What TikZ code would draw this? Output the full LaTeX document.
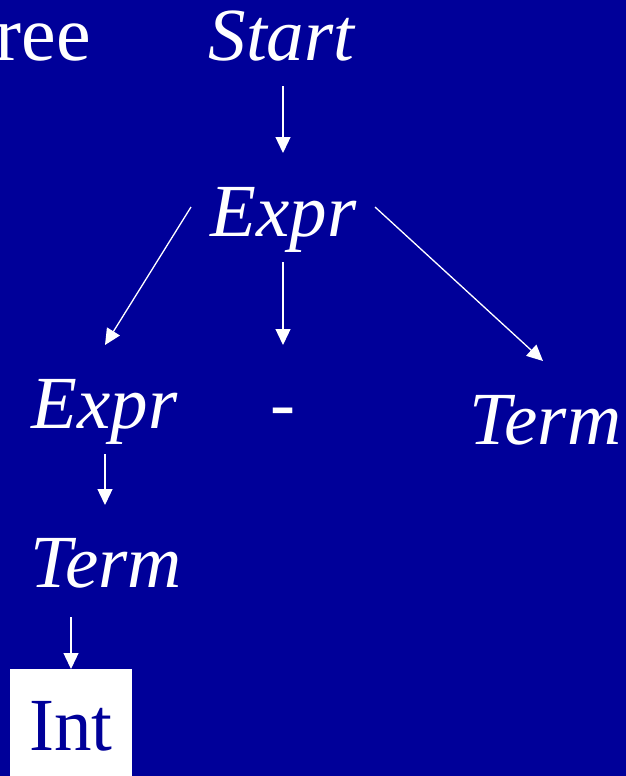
\documentclass[tikz,border=0pt]{standalone}
\usepackage{fontspec}
\setmainfont{Liberation Serif}
\usetikzlibrary{arrows.meta,calc}
\definecolor{bgblue}{RGB}{0,0,153}
\begin{document}
\begin{tikzpicture}[x=1pt,y=-1pt,
  lbl/.style={inner sep=0pt,text height=50pt,text depth=16pt,anchor=base,text=white,
    font=\fontsize{75pt}{80pt}\selectfont\itshape},
  arr/.style={draw=white,line width=1.3pt,-{Triangle[length=16pt,width=15pt]}}]
\fill[bgblue] (0,0) rectangle (626,776);
\useasboundingbox (0,0) rectangle (626,776);
\node[inner sep=0pt,anchor=base east,text=white,font=\fontsize{78pt}{80pt}\selectfont] (title) at (91,60) {ree};
\node[lbl] (start) at (281.5,60) {Start};
\node[lbl] (expr1) at (283.5,236) {Expr};
\node[lbl] (expr2) at (104.5,428) {Expr};
\node[lbl] (minus) at (282.5,428) {-};
\node[lbl] (term2) at (545.5,444) {Term};
\node[lbl] (term1) at (106,587) {Term};
\node[inner sep=0pt,fill=white,text=bgblue,anchor=north,minimum width=122pt,
  text height=50pt,text depth=0pt,inner ysep=31pt,
  font=\fontsize{75pt}{80pt}\selectfont] (int) at (71,669) {Int};
\draw[arr] ($(start.base)+(1.5,26)$) -- ($(expr1.base)+(-0.5,-83)$);
\draw[arr] ($(expr1.base)+(-92.5,-29)$) -- ($(expr2.base)+(0.5,-83)$);
\draw[arr] ($(expr1.base)+(-0.5,26)$) -- ($(minus.base)+(0.5,-83)$);
\draw[arr] ($(expr1.base)+(91.5,-29)$) -- ($(term2.base)+(-2.5,-83)$);
\draw[arr] ($(expr2.base)+(0.5,26)$) -- ($(term1.base)+(-1,-82)$);
\draw[arr] ($(term1.base)+(-35,30)$) -- (int.north);
\end{tikzpicture}
\end{document}
